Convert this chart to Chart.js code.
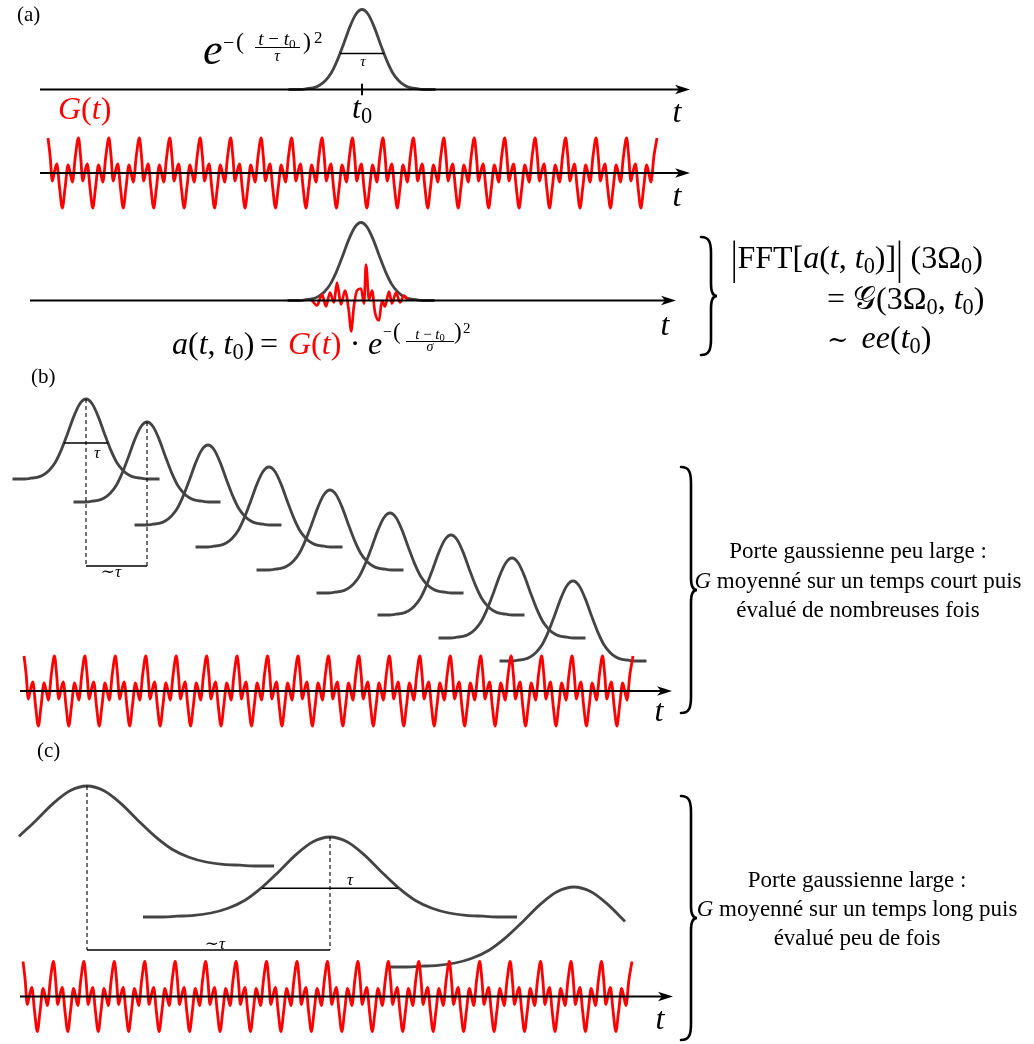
<!DOCTYPE html>
<html>
<head>
<meta charset="utf-8">
<script src="https://cdn.jsdelivr.net/npm/chart.js@4.4.1/dist/chart.umd.min.js"></script>
<style>
  html, body { margin: 0; padding: 0; background: #fff; }
  #wrap { position: relative; width: 1034px; height: 1044px; }
  #labels { position: absolute; left: 0; top: 0; width: 1034px; height: 1044px; pointer-events: none; }
  .lbl { position: absolute; line-height: 1; white-space: nowrap; color: #000;
         font-family: "Liberation Serif", "DejaVu Serif", serif; }
  .lbl sub { font-size: 0.7em; line-height: 0; vertical-align: -0.22em; }
  .red { color: #ff0000; }
  .big { display: inline-block; transform: scaleY(1.45); }
  .cal { font-family: "DejaVu Serif", "DejaVu Sans", serif; }
  .sim { font-family: "DejaVu Serif", serif; font-size: 0.8em; margin-right: 0.2em; }
  .rule { position: absolute; height: 1px; background: #000; }
</style>
</head>
<body>
<div id="wrap">
  <canvas id="chart"></canvas>
  <div id="labels"></div>
</div>
<script>
const GREY = "#444444";
const RED = "#ff0000";

// gate e^{-((t-t0)/tau)^2}: offset in gate widths, height as share of the peak
const gateU = [-3, -2.75, -2.5, -2.25, -2, -1.75, -1.5, -1.25, -1, -0.75, -0.5, -0.25, 0,
               0.25, 0.5, 0.75, 1, 1.25, 1.5, 1.75, 2, 2.25, 2.5, 2.75, 3];
const gateShape = [0, 0, 0, 0.01, 0.02, 0.05, 0.11, 0.21, 0.37, 0.57, 0.78, 0.94, 1,
                   0.94, 0.78, 0.57, 0.37, 0.21, 0.11, 0.05, 0.02, 0.01, 0, 0, 0];

// one period of G(t): phase in the period, height above the axis
const gPhase = [0, 0.07, 0.14, 0.21, 0.29, 0.38, 0.47, 0.56, 0.66, 0.73, 0.8, 0.9];
const gValue = [35, 17, -8, 1, 9, -15, -35, -15, 8, 0, -9, 17];
const gPeriods = 20;
const gPeriodLength = 30.45;
const gStarts = [48, 24, 23];          // rows (a), (b), (c)
const gAxes = [173, 691, 996.5];

// a(t, t0) = G(t) * gate, panel (a)
const aT = [312, 317, 322, 326, 330, 334, 337, 341, 345, 349, 351, 354, 357, 361,
            364, 366, 369, 372, 375, 379, 382, 385, 389, 392, 396, 400, 404, 408];
const aValue = [0, -5, 6, -6, 8, -2, 18, -4, 10, -12, -31, -5, 10, 12,
                -3, 36, 1, 10, -12, -20, 0, -6, 9, -3, 8, -2, 5, 0];

// time axes
const axisY = [89.5, 173, 300.5, 691, 996.5];
const axisFrom = [40, 40, 30, 20, 20];
const axisTo = [690, 690, 676, 672, 673];

// panel (a) gates
const aGateCentres = [362, 361];
const aGateBases = [89.5, 300.5];
const aGateHeights = [80, 78];

// panel (b): narrow gates
const narrowWidth = 24.5;
const narrowHeight = 80;
const narrowCentres = [86, 147, 208, 269, 330, 390, 451, 512, 573];
const narrowBases = [479, 502, 525, 547, 570, 593, 615, 638, 661];
const narrowTauLevel = 0.45;
const narrowTauHalf = 0.9;
const narrowBracket = 566;

// panel (c): wide gates, partly cut
const wideWidth = 68;
const wideHeight = 80;
const wideCentres = [87, 330, 574];
const wideBases = [866, 917, 967];
const wideFrom = [-1, -2.75, -2.75];
const wideTo = [2.75, 2.75, 0.75];
const wideTauLevel = 0.36;
const wideTauHalf = 1.0;
const wideBracket = 950;

// braces on the right
const braceX = [701, 681, 681];
const braceTop = [237, 467, 796];
const braceBottom = [355, 713, 1040];

function gateLine(centre, base, width, height, from, to) {
  const pts = [];
  gateU.forEach((u, i) => {
    if (u >= from - 1e-9 && u <= to + 1e-9)
      pts.push({ x: centre + u * width, y: base - height * gateShape[i] });
  });
  return pts;
}

function signalLine(start, axis) {
  const pts = [];
  for (let k = 0; k < gPeriods; k++)
    gPhase.forEach((p, i) => pts.push({ x: start + (k + p) * gPeriodLength, y: axis - gValue[i] }));
  pts.push({ x: start + gPeriods * gPeriodLength, y: axis - gValue[0] });
  return pts;
}

function curve(data, color, width, order, extra) {
  return Object.assign({
    data, showLine: true, borderColor: color, borderWidth: width, order,
    pointRadius: 0, cubicInterpolationMode: "monotone", fill: false,
  }, extra || {});
}

function straight(data, width, dash) {
  return { data, showLine: true, borderColor: "#000", borderWidth: width, order: 1,
           pointRadius: 0, borderDash: dash || [], fill: false };
}

const datasets = [];

// gates
aGateCentres.forEach((c, i) =>
  datasets.push(curve(gateLine(c, aGateBases[i], narrowWidth, aGateHeights[i], -3, 3), GREY, 2.8, 3)));
narrowCentres.forEach((c, i) =>
  datasets.push(curve(gateLine(c, narrowBases[i], narrowWidth, narrowHeight, -3, 3), GREY, 2.8, 3)));
wideCentres.forEach((c, i) =>
  datasets.push(curve(gateLine(c, wideBases[i], wideWidth, wideHeight, wideFrom[i], wideTo[i]), GREY, 2.8, 3)));

// G(t) and a(t, t0)
gStarts.forEach((s, i) => datasets.push(curve(signalLine(s, gAxes[i]), RED, 2.8, 2)));
datasets.push(curve(aT.map((t, i) => ({ x: t, y: axisY[2] - aValue[i] })), RED, 2.7, 2));

// tau markers
const c0 = aGateCentres[0], tauHalfA = narrowTauHalf * narrowWidth;
datasets.push(straight([{ x: c0 - tauHalfA, y: aGateBases[0] - aGateHeights[0] * narrowTauLevel },
                        { x: c0 + tauHalfA, y: aGateBases[0] - aGateHeights[0] * narrowTauLevel }], 1.6));
datasets.push(straight([{ x: c0, y: axisY[0] - 5 }, { x: c0, y: axisY[0] + 5 }], 2));

const nb = narrowBases[0] - narrowHeight * narrowTauLevel;
datasets.push(straight([{ x: narrowCentres[0] - tauHalfA, y: nb }, { x: narrowCentres[0] + tauHalfA, y: nb }], 1.6));
[0, 1].forEach(i => datasets.push(straight([
  { x: narrowCentres[i], y: narrowBases[i] - narrowHeight }, { x: narrowCentres[i], y: narrowBracket }], 1.1, [4, 3])));
datasets.push(straight([{ x: narrowCentres[0], y: narrowBracket }, { x: narrowCentres[1], y: narrowBracket }], 1.6));

const wb = wideBases[1] - wideHeight * wideTauLevel, tauHalfC = wideTauHalf * wideWidth;
datasets.push(straight([{ x: wideCentres[1] - tauHalfC, y: wb }, { x: wideCentres[1] + tauHalfC, y: wb }], 1.6));
[0, 1].forEach(i => datasets.push(straight([
  { x: wideCentres[i], y: wideBases[i] - wideHeight }, { x: wideCentres[i], y: wideBracket }], 1.1, [4, 3])));
datasets.push(straight([{ x: wideCentres[0], y: wideBracket }, { x: wideCentres[1], y: wideBracket }], 1.6));

// axes last, on top
axisY.forEach((y, i) => {
  const d = straight([{ x: axisFrom[i], y }, { x: axisTo[i] - 6, y }], 2.2);
  d.order = 0;
  datasets.push(d);
});

const decor = {
  id: "decor",
  afterDatasetsDraw(chart) {
    const ctx = chart.ctx, xs = chart.scales.x, ys = chart.scales.y;
    ctx.save();
    ctx.fillStyle = "#000";
    axisY.forEach((y, i) => {
      const px = xs.getPixelForValue(axisTo[i]), py = ys.getPixelForValue(y);
      ctx.beginPath();
      ctx.moveTo(px, py);
      ctx.lineTo(px - 15, py - 4.8);
      ctx.lineTo(px - 11, py);
      ctx.lineTo(px - 15, py + 4.8);
      ctx.closePath();
      ctx.fill();
    });
    ctx.strokeStyle = "#000";
    ctx.lineWidth = 2.6;
    ctx.lineCap = "round";
    braceX.forEach((bx, i) => {
      const x0 = xs.getPixelForValue(bx), x1 = x0 + 10;
      const t = ys.getPixelForValue(braceTop[i]), b = ys.getPixelForValue(braceBottom[i]);
      const m = (t + b) / 2;
      ctx.beginPath();
      ctx.moveTo(x0, t);
      ctx.bezierCurveTo(x1 - 2, t, x1, t + 5, x1, t + 16);
      ctx.lineTo(x1, m - 12);
      ctx.bezierCurveTo(x1, m - 4, x1 + 2, m, x1 + 6, m);
      ctx.bezierCurveTo(x1 + 2, m, x1, m + 4, x1, m + 12);
      ctx.lineTo(x1, b - 16);
      ctx.bezierCurveTo(x1, b - 5, x1 - 2, b, x0, b);
      ctx.stroke();
    });
    ctx.restore();
  },
};

new Chart(document.getElementById("chart"), {
  type: "scatter",
  data: { datasets },
  options: {
    responsive: true,
    maintainAspectRatio: false,
    animation: false,
    events: [],
    layout: { padding: 0 },
    plugins: { legend: { display: false }, tooltip: { enabled: false } },
    scales: {
      x: { type: "linear", min: 0, max: 1034, display: false },
      y: { type: "linear", min: 0, max: 1044, reverse: true, display: false },
    },
    elements: { line: { borderCapStyle: "butt", borderJoinStyle: "round" } },
  },
  plugins: [decor],
});

// text, y is the baseline
const L = document.getElementById("labels");
function put(html, x, base, size, align, cls) {
  const d = document.createElement("div");
  d.className = "lbl" + (cls ? " " + cls : "");
  d.innerHTML = html;
  d.style.fontSize = size + "px";
  d.style.top = (base - 0.8375 * size) + "px";
  d.style.left = x + "px";
  if (align === "c") d.style.transform = "translateX(-50%)";
  if (align === "r") d.style.transform = "translateX(-100%)";
  L.appendChild(d);
}
function rule(x1, x2, y) {
  const d = document.createElement("div");
  d.className = "rule";
  d.style.left = x1 + "px";
  d.style.width = (x2 - x1) + "px";
  d.style.top = y + "px";
  L.appendChild(d);
}

// (a)
put("(a)", 17, 22, 21);
put("<i>e</i>", 203, 65, 44);
put("−", 223, 49, 20);
put("(", 236, 49, 24);
put("<i>t</i> − <i>t</i><sub>0</sub>", 277, 45, 19, "c");
rule(255, 300, 47);
put("<i>τ</i>", 277, 61, 16, "c");
put(")", 303, 49, 24);
put("2", 314, 43, 17);
put("<i>τ</i>", 363, 67, 15, "c");
put("<i>t</i><sub>0</sub>", 352, 118, 32);
put("<i>t</i>", 677, 122, 32, "c");
put("<i>G</i>(<i>t</i>)", 58, 119, 32, null, "red");
put("<i>t</i>", 677, 206, 32, "c");
put("<i>t</i>", 665, 335, 32, "c");

put("<i>a</i>(<i>t</i>, <i>t</i><sub>0</sub>)", 172, 354, 32);
put("=", 260, 354, 32);
put("<i>G</i>(<i>t</i>)", 288, 354, 32, null, "red");
put("·", 355, 354, 32, "c");
put("<i>e</i>", 368, 354, 32);
put("−", 383, 337, 16);
put("(", 393, 339, 23);
put("<i>t</i> − <i>t</i><sub>0</sub>", 430, 339.5, 15, "c");
rule(406, 454, 341);
put("<i>σ</i>", 430, 351.5, 14, "c");
put(")", 454, 339, 23);
put("2", 463, 334, 15);

put("<span class='big'>|</span>FFT[<i>a</i>(<i>t</i>, <i>t</i><sub>0</sub>)]<span class='big'>|</span> (3Ω<sub>0</sub>)", 731, 268, 32);
put("= <span class='cal'>𝒢</span>(3Ω<sub>0</sub>, <i>t</i><sub>0</sub>)", 827, 309, 32);
put("<span class='sim'>∼</span> <i>ee</i>(<i>t</i><sub>0</sub>)", 827, 348, 32);

// (b)
put("(b)", 31, 384, 21);
put("<i>τ</i>", 97, 458, 17, "c");
put("∼<i>τ</i>", 111, 577, 17, "c");
put("<i>t</i>", 659, 721, 32, "c");
put("Porte gaussienne peu large :", 858, 558, 23, "c");
put("<i>G</i> moyenné sur un temps court puis", 858, 588, 23, "c");
put("évalué de nombreuses fois", 858, 617, 23, "c");

// (c)
put("(c)", 37, 758, 21);
put("<i>τ</i>", 350, 885, 17, "c");
put("∼<i>τ</i>", 215, 949, 17, "c");
put("<i>t</i>", 660, 1029, 32, "c");
put("Porte gaussienne large :", 857, 887, 23, "c");
put("<i>G</i> moyenné sur un temps long puis", 857, 916, 23, "c");
put("évalué peu de fois", 857, 945, 23, "c");
</script>
</body>
</html>
